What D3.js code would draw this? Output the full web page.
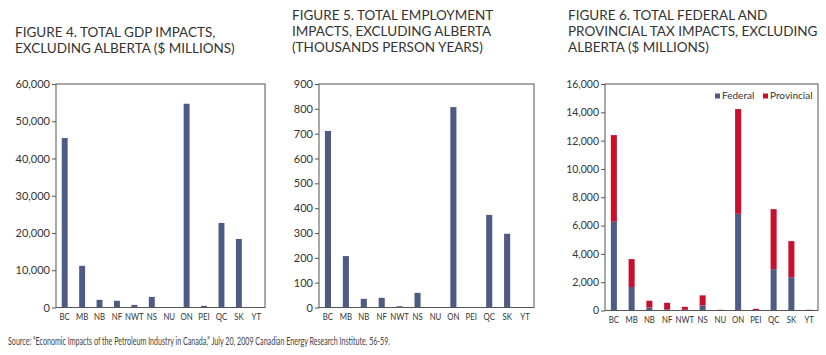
<!DOCTYPE html>
<html>
<head>
<meta charset="utf-8">
<script src="https://cdn.jsdelivr.net/npm/d3@7"></script>
<style>
  html, body { margin: 0; padding: 0; background: #fff; }
  svg { display: block; font-family: Lato, "Open Sans", sans-serif; }
</style>
</head>
<body>
<svg id="chart" width="826" height="355"></svg>
<script>
const categories = ["BC","MB","NB","NF","NWT","NS","NU","ON","PEI","QC","SK","YT"];
const gdp = [45500, 11200, 2050, 1800, 700, 2850, 0, 54700, 450, 22700, 18400, 0];
const employment = [711, 207, 35, 39, 5, 59, 2, 807, 2, 373, 297, 0];
const federal = [6270, 1660, 210, 70, 50, 355, 10, 6830, 20, 2920, 2350, 10];
const provincial = [6120, 1970, 480, 475, 210, 715, 40, 7400, 100, 4240, 2550, 40];
const gdpTicks = [0, 10000, 20000, 30000, 40000, 50000, 60000];
const empTicks = [0, 100, 200, 300, 400, 500, 600, 700, 800, 900];
const taxTicks = [0, 2000, 4000, 6000, 8000, 10000, 12000, 14000, 16000];
const titles = [
  ["FIGURE 4. TOTAL GDP IMPACTS,", "EXCLUDING ALBERTA ($ MILLIONS)"],
  ["FIGURE 5. TOTAL EMPLOYMENT", "IMPACTS, EXCLUDING ALBERTA", "(THOUSANDS PERSON YEARS)"],
  ["FIGURE 6. TOTAL FEDERAL AND", "PROVINCIAL TAX IMPACTS, EXCLUDING", "ALBERTA ($ MILLIONS)"]
];
const seriesNames = ["Federal", "Provincial"];
const sourceText = "Source:  \u201cEconomic Impacts of the Petroleum Industry in Canada,\u201d July 20, 2009 Canadian Energy Research Institute, 56-59.";

const BLUE = "#4e5b85", RED = "#c8102e", FRAME = "#555", TEXT = "#333";
const svg = d3.select("#chart");
const fmt = d3.format(",");

const panels = [
  {left: 56, right: 265, top: 84, bottom: 307.5, max: 60000, ticks: gdpTicks, title: titles[0], tx: 15, ty: 36.5, tickFont: 11},
  {left: 319, right: 534, top: 84, bottom: 307.5, max: 900, ticks: empTicks, title: titles[1], tx: 292, ty: 19.5, tickFont: 11},
  {left: 605, right: 818, top: 84, bottom: 310.5, max: 16000, ticks: taxTicks, title: titles[2], tx: 568, ty: 19.5, tickFont: 10.5}
];

panels.forEach((p, i) => {
  const g = svg.append("g");
  const t = g.append("text").attr("x", p.tx).attr("y", p.ty)
    .attr("fill", TEXT).attr("font-size", 13.5);
  p.title.forEach((line, k) => {
    t.append("tspan").attr("x", p.tx).attr("dy", k === 0 ? 0 : 16).text(line);
  });

  const x = d3.scaleBand().domain(categories).range([p.left, p.right])
    .paddingInner(0.66).paddingOuter(0.33);
  const y = d3.scaleLinear().domain([0, p.max]).range([p.bottom, p.top]);

  if (i < 2) {
    const vals = i === 0 ? gdp : employment;
    g.selectAll("rect.bar").data(categories).join("rect")
      .attr("x", d => x(d)).attr("width", x.bandwidth())
      .attr("y", (d, j) => y(vals[j])).attr("height", (d, j) => y(0) - y(vals[j]))
      .attr("fill", BLUE);
  } else {
    const rows = categories.map((c, j) => ({cat: c, Federal: federal[j], Provincial: provincial[j]}));
    const stack = d3.stack().keys(seriesNames)(rows);
    const colors = [BLUE, RED];
    stack.forEach((s, si) => {
      g.append("g").selectAll("rect").data(s).join("rect")
        .attr("x", d => x(d.data.cat)).attr("width", x.bandwidth())
        .attr("y", d => y(d[1])).attr("height", d => y(d[0]) - y(d[1]))
        .attr("fill", colors[si]);
    });
    const lg = g.append("g").attr("font-size", 10).attr("fill", TEXT);
    const lx = [715, 763];
    seriesNames.forEach((n, k) => {
      lg.append("rect").attr("x", lx[k]).attr("y", 93.5).attr("width", 5).attr("height", 5).attr("fill", colors[k]);
      lg.append("text").attr("x", lx[k] + 7).attr("y", 99).text(n);
    });
  }

  g.append("rect").attr("x", p.left).attr("y", p.top)
    .attr("width", p.right - p.left).attr("height", p.bottom - p.top)
    .attr("fill", "none").attr("stroke", FRAME).attr("stroke-width", 1);

  const ya = g.append("g").attr("transform", `translate(${p.left},0)`)
    .call(d3.axisLeft(y).tickValues(p.ticks).tickFormat(fmt).tickSize(4).tickPadding(2));
  ya.select(".domain").remove();
  ya.selectAll("line").attr("stroke", FRAME);
  ya.selectAll("text").attr("fill", TEXT).attr("font-size", p.tickFont).attr("font-family", "Lato, sans-serif");

  const xa = g.append("g").attr("transform", `translate(0,${p.bottom})`)
    .call(d3.axisBottom(x).tickSize(0).tickPadding(5));
  xa.select(".domain").remove();
  xa.selectAll("text").attr("fill", TEXT).attr("font-size", 10)
    .attr("font-family", "Lato, sans-serif").attr("transform", "scale(0.78,1)");
});

svg.append("text").attr("x", 8).attr("y", 345).attr("font-size", 10.5)
  .attr("fill", "#444").attr("textLength", 382).attr("lengthAdjust", "spacingAndGlyphs")
  .text(sourceText);
</script>
</body>
</html>
